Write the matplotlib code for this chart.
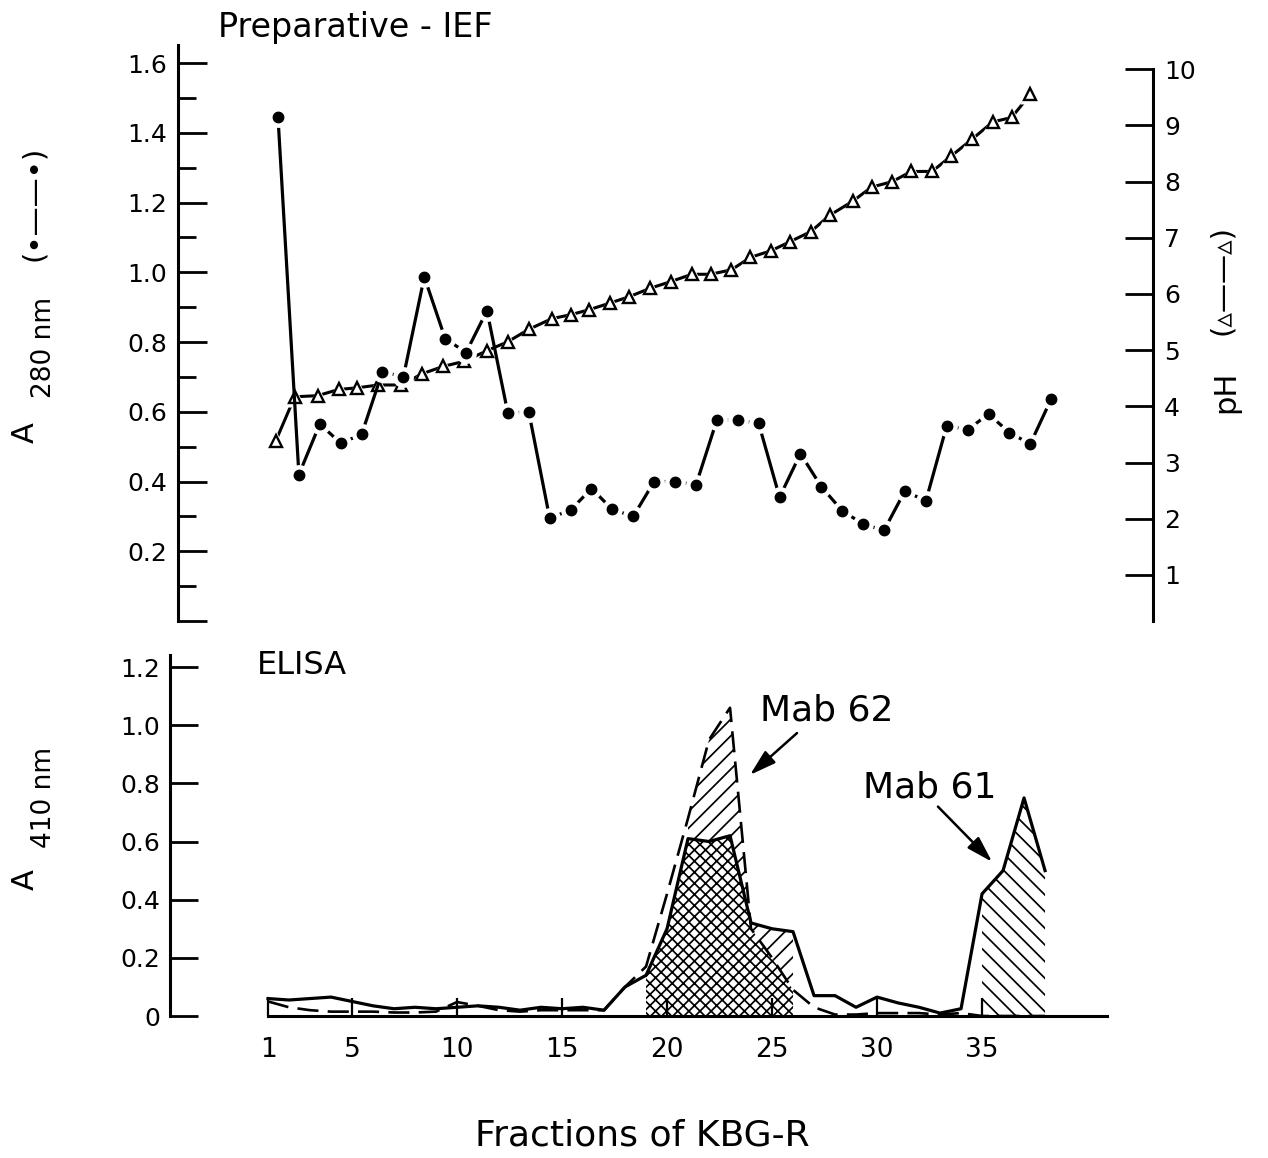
import numpy as np
import matplotlib
matplotlib.use('Agg')
import matplotlib.pyplot as plt

W, H = 1268, 1158
plt.rcParams['font.family'] = 'DejaVu Sans'
plt.rcParams['hatch.linewidth'] = 1.25

# preparative IEF of KBG-R, fractions 1-38
fractions = np.arange(1, 39)
a280 = [1.445, 0.42, 0.565, 0.51, 0.535, 0.715, 0.70, 0.987, 0.81, 0.77,
        0.89, 0.596, 0.60, 0.295, 0.318, 0.38, 0.32, 0.30, 0.40, 0.40,
        0.39, 0.576, 0.576, 0.567, 0.355, 0.48, 0.385, 0.316, 0.278, 0.26,
        0.373, 0.344, 0.56, 0.548, 0.594, 0.54, 0.508, 0.637]
# pH readings are plotted at their own (slightly compressed) positions
ph_pos = [0.9, 1.8, 2.9, 3.9, 4.8, 5.8, 6.9, 7.9, 8.9, 9.9,
          11.0, 12.0, 13.0, 14.1, 15.0, 15.9, 16.9, 17.8, 18.8, 19.8,
          20.8, 21.7, 22.7, 23.6, 24.6, 25.5, 26.5, 27.4, 28.5, 29.4,
          30.4, 31.3, 32.3, 33.2, 34.2, 35.2, 36.1, 37.0]
ph = [3.39, 4.17, 4.19, 4.30, 4.33, 4.38, 4.38, 4.58, 4.71, 4.80,
      4.99, 5.15, 5.37, 5.56, 5.63, 5.72, 5.84, 5.95, 6.10, 6.22,
      6.35, 6.35, 6.43, 6.65, 6.77, 6.93, 7.11, 7.40, 7.65, 7.90,
      8.00, 8.18, 8.18, 8.45, 8.75, 9.06, 9.14, 9.55]

# ELISA (A410) of the same fractions
mab61 = [0.06, 0.055, 0.06, 0.065, 0.05, 0.035, 0.025, 0.03, 0.025, 0.03,
         0.035, 0.03, 0.02, 0.03, 0.025, 0.03, 0.02, 0.10, 0.14, 0.30,
         0.61, 0.60, 0.62, 0.32, 0.30, 0.29, 0.07, 0.07, 0.03, 0.065,
         0.045, 0.03, 0.01, 0.025, 0.42, 0.50, 0.75, 0.50]
mab62 = [0.05, 0.03, 0.02, 0.015, 0.015, 0.015, 0.012, 0.012, 0.015, 0.048,
         0.035, 0.02, 0.015, 0.02, 0.02, 0.02, 0.02, 0.10, 0.17, 0.42,
         0.68, 0.95, 1.06, 0.30, 0.20, 0.09, 0.03, 0.005, 0.005, 0.01,
         0.01, 0.01, 0.005, 0.01, 0.0, 0.0, 0.0, 0.0]

x_ticks = [1, 5, 10, 15, 20, 25, 30, 35]
a280_ticks = [0.2, 0.4, 0.6, 0.8, 1.0, 1.2, 1.4, 1.6]
a410_ticks = [0, 0.2, 0.4, 0.6, 0.8, 1.0, 1.2]
ph_ticks = list(range(1, 11))


def fx(px):
    return px / W


def fy(py):
    return 1 - py / H


fig = plt.figure(figsize=(W / 100, H / 100), dpi=100)

# ---- top panel: A280 and pH ----
ax = fig.add_axes([fx(178), fy(621), fx(1153) - fx(178), fy(45) - fy(621)])
ax2 = ax.twinx()
ax.set_xlim(-3.785, 42.87)
ax.set_ylim(0, 1.652)
ax2.set_ylim(0.18, 10.43)

ax2.plot(ph_pos, ph, color='k', lw=2.2, zorder=1)
ax2.plot(ph_pos, ph, ls='none', marker='^', ms=15, mfc='white', mec='none', zorder=2)
ax2.plot(ph_pos, ph, ls='none', marker='^', ms=9, mfc='white', mec='k', mew=1.7, zorder=3)

ax2.plot(fractions, a280, color='k', lw=2.3, zorder=4,
         transform=ax.transData)
ax2.plot(fractions, a280, ls='none', marker='o', ms=15, mfc='white', mec='none',
         zorder=5, transform=ax.transData)
ax2.plot(fractions, a280, ls='none', marker='o', ms=7.5, mfc='k', mec='k',
         zorder=6, transform=ax.transData)

for a in (ax, ax2):
    a.spines['top'].set_visible(False)
    a.spines['bottom'].set_visible(False)
    a.xaxis.set_visible(False)
    a.patch.set_visible(False)
ax.spines['right'].set_visible(False)
ax2.spines['left'].set_visible(False)
ax.spines['left'].set_linewidth(2.2)
ax2.spines['right'].set_linewidth(2.2)
ax2.spines['right'].set_bounds(0.18, 10)

ax.set_yticks([0] + a280_ticks)
ax.set_yticklabels([''] + ['%.1f' % v for v in a280_ticks])
ax.set_yticks(np.arange(0.1, 1.6, 0.2), minor=True)
ax.tick_params(axis='y', which='major', direction='in', length=21, width=2,
               labelsize=18, pad=8)
ax.tick_params(axis='y', which='minor', direction='in', length=13, width=2)

ax2.set_yticks(ph_ticks)
ax2.tick_params(axis='y', which='major', direction='in', length=20, width=2,
                labelsize=18, pad=8)

# ---- bottom panel: ELISA ----
axb = fig.add_axes([fx(170), fy(1016), fx(1107) - fx(170), fy(655) - fy(1016)])
axb.set_xlim(-3.667, 40.95)
axb.set_ylim(0, 1.2414)

lower = np.minimum(mab61, mab62)
upper = np.maximum(mab61, mab62)
f = fractions
axb.fill_between(f[18:26], 0, lower[18:26], facecolor='none', edgecolor='k',
                 hatch='xxx', linewidth=0)
axb.fill_between(f[20:26], lower[20:26], upper[20:26], facecolor='none',
                 edgecolor='k', hatch='//', linewidth=0)
axb.fill_between(f[34:], 0, np.array(mab61)[34:], facecolor='none',
                 edgecolor='k', hatch='\\\\', linewidth=0)

axb.plot(f, mab61, color='k', lw=2.3, clip_on=False)
axb.plot(f, mab62, color='k', lw=1.9, dashes=(8, 3.5), clip_on=False)

for s in ('top', 'right'):
    axb.spines[s].set_visible(False)
axb.spines['left'].set_linewidth(2.2)
axb.spines['bottom'].set_linewidth(2.2)
axb.spines['bottom'].set_bounds(1, 40.95)
axb.patch.set_visible(False)

axb.set_xticks(x_ticks)
axb.set_xticklabels([str(v) for v in x_ticks])
axb.set_yticks(a410_ticks)
axb.set_yticklabels(['0'] + ['%.1f' % v for v in a410_ticks[1:]])
axb.tick_params(axis='y', direction='in', length=20, width=2, labelsize=18, pad=7)
axb.tick_params(axis='x', direction='in', length=13, width=1.6, labelsize=19, pad=15)

arrow = dict(arrowstyle='-|>,head_length=1.0,head_width=0.3',
             mutation_scale=16, lw=1.8, color='k', shrinkA=0, shrinkB=0)
axb.text(27.62, 1.052, 'Mab 62', fontsize=26, ha='center', va='center')
axb.annotate('', xy=(23.95, 0.829), xytext=(26.19, 0.973), arrowprops=arrow)
axb.text(32.52, 0.787, 'Mab 61', fontsize=26, ha='center', va='center')
axb.annotate('', xy=(35.48, 0.53), xytext=(32.9, 0.72), arrowprops=arrow)

# ---- titles and axis labels ----
fig.text(fx(218), fy(27), 'Preparative - IEF', fontsize=24, ha='left', va='center')
fig.text(fx(257), fy(665), 'ELISA', fontsize=23, ha='left', va='center')
fig.text(fx(642), fy(1135), 'Fractions of KBG-R', fontsize=26, ha='center', va='center')

fig.text(fx(25), fy(433), 'A', fontsize=22, rotation=90, ha='center', va='center')
fig.text(fx(44), fy(347), '280 nm', fontsize=19, rotation=90, ha='center', va='center')
fig.text(fx(34), fy(203), '(•——•)', fontsize=21, rotation=90, ha='center', va='center')

fig.text(fx(25), fy(880), 'A', fontsize=22, rotation=90, ha='center', va='center')
fig.text(fx(44), fy(797), '410 nm', fontsize=19, rotation=90, ha='center', va='center')

fig.text(fx(1226), fy(392), 'pH', fontsize=22, rotation=90, ha='center', va='center')
fig.text(fx(1222), fy(280), '(▵——▵)', fontsize=21, rotation=90, ha='center', va='center')

fig.savefig('out.png', dpi=100)
